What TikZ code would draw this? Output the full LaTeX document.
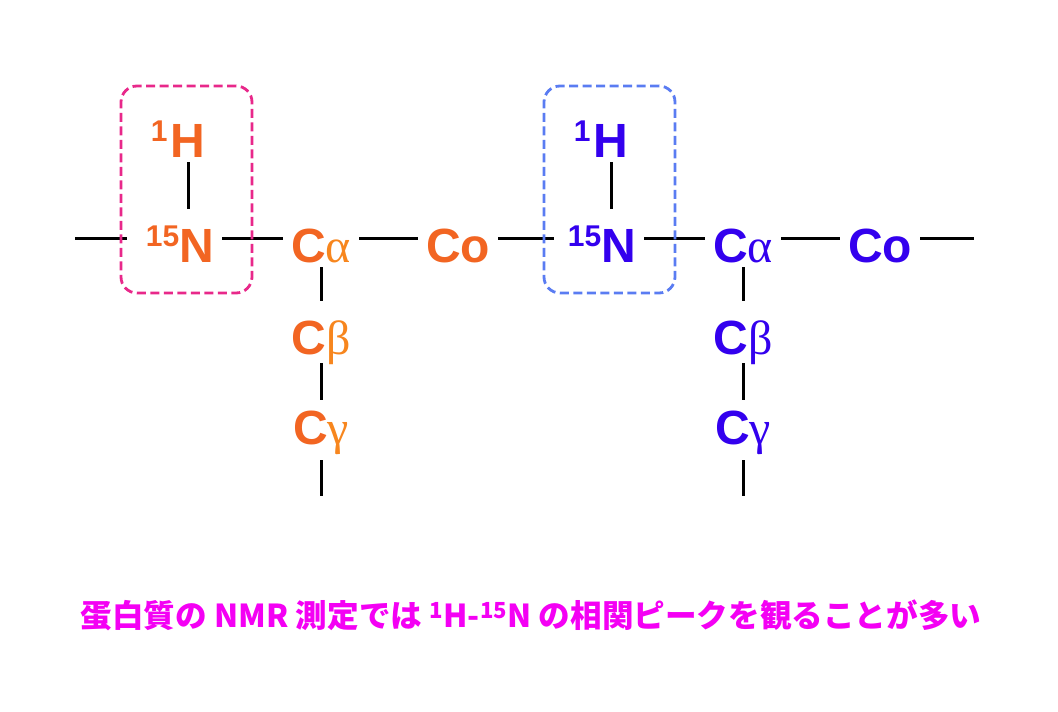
\documentclass[tikz,border=0pt]{standalone}
\usepackage{fontspec}
\setmainfont{Liberation Sans}
\newfontfamily\grk{Liberation Serif}
\newfontfamily\cjk{Noto Sans CJK JP}
\definecolor{resorange}{HTML}{F26522}
\definecolor{greekorange}{HTML}{F7861E}
\definecolor{resblue}{HTML}{3300EE}
\definecolor{boxpink}{HTML}{E8288A}
\definecolor{boxblue}{HTML}{5A7CF2}
\definecolor{notemagenta}{HTML}{F400F4}
\newcommand\iso[2]{\raisebox{16pt}{\fontsize{30}{30}\selectfont #1}#2}
\newcommand\isoh[2]{\llap{\raisebox{16pt}{\fontsize{30}{30}\selectfont #1}\kern3pt}#2}
\begin{document}
\begin{tikzpicture}[x=1pt,y=-1pt,
  atom/.style={font=\fontsize{48}{48}\selectfont\bfseries,text height=48pt,text depth=0pt,inner xsep=8pt,inner ysep=5pt,anchor=base},
  bond/.style={line width=3pt,black},
  hbox/.style={draw=#1,line width=2.8pt,dash pattern=on 9pt off 4.5pt,rounded corners=16pt,minimum width=131pt,minimum height=207pt}]
\useasboundingbox (0,0) rectangle (1058,712);
% first residue
\node[atom,text=resorange] (h1) at (188,157) {\isoh{1}{H}};
\node[atom,text=resorange] (n1) at (180,262) {\iso{15}{N}};
\node[atom,text=resorange] (ca1) at (321,262) {C{\grk\mdseries\color{greekorange}α}};
\node[atom,text=resorange] (cb1) at (321,354) {C{\grk\mdseries\color{greekorange}β}};
\node[atom,text=resorange] (cg1) at (321,444) {C{\grk\mdseries\color{greekorange}γ}};
\node[atom,text=resorange] (co1) at (458,262) {Co};
% second residue
\node[atom,text=resblue] (h2) at (611,157) {\isoh{1}{H}};
\node[atom,text=resblue] (n2) at (602,262) {\iso{15}{N}};
\node[atom,text=resblue] (ca2) at (743,262) {C{\grk\mdseries α}};
\node[atom,text=resblue] (cb2) at (743,354) {C{\grk\mdseries β}};
\node[atom,text=resblue] (cg2) at (743,444) {C{\grk\mdseries γ}};
\node[atom,text=resblue] (co2) at (880,262) {Co};
\coordinate (l0) at (75,238);
\coordinate (r0) at (974,238);
\coordinate (e1) at (321,496);
\coordinate (e2) at (743,496);
% backbone
\draw[bond,shorten >=11pt] (l0) -- (n1);
\draw[bond] (n1) -- (ca1);
\draw[bond] (ca1) -- (co1);
\draw[bond,shorten >=6pt] (co1) -- (n2);
\draw[bond] (n2) -- (ca2);
\draw[bond] (ca2) -- (co2);
\draw[bond] (co2) -- (r0);
% side chains
\draw[bond] (h1) -- (h1 |- n1.north);
\draw[bond] (h2) -- (h2 |- n2.north);
\draw[bond] (ca1) -- (cb1);
\draw[bond,shorten <=4pt,shorten >=-9pt] (cb1) -- (cg1);
\draw[bond,shorten <=11pt] (cg1) -- (e1);
\draw[bond] (ca2) -- (cb2);
\draw[bond,shorten <=4pt,shorten >=-9pt] (cb2) -- (cg2);
\draw[bond,shorten <=11pt] (cg2) -- (e2);
% H-N boxes
\node[hbox=boxpink] (box1) at (186.5,189.5) {};
\node[hbox=boxblue] (box2) at (609.5,189.5) {};
\node[text=notemagenta,font=\cjk\bfseries\fontsize{31.6}{32}\selectfont] (note) at (531,615)
  {蛋白質の NMR 測定では \textsuperscript{1}H-\textsuperscript{15}N の相関ピークを観ることが多い};
\end{tikzpicture}
\end{document}
